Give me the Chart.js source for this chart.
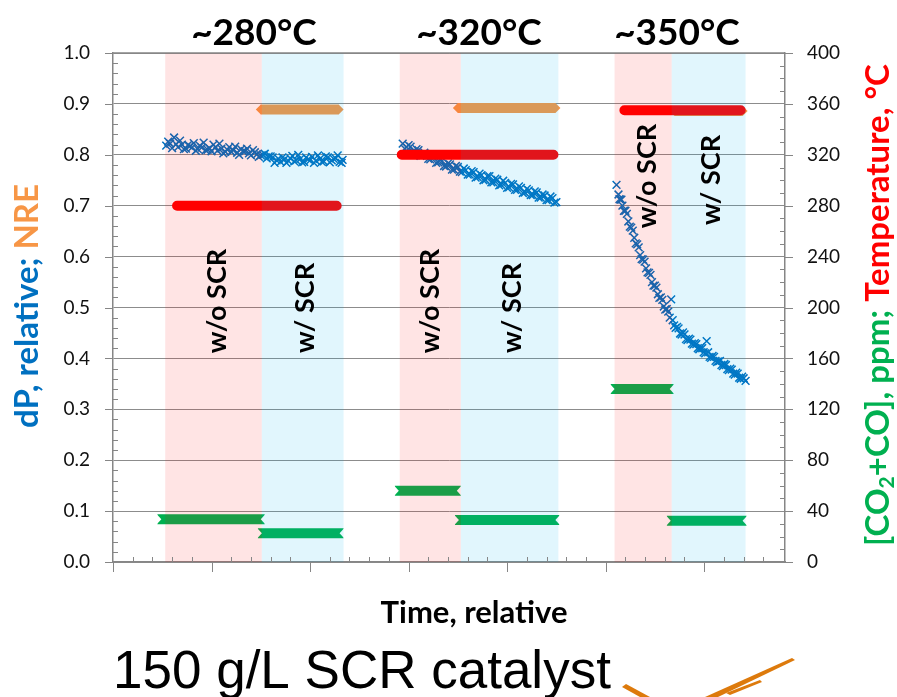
<!DOCTYPE html>
<html>
<head>
<meta charset="utf-8">
<script src="https://cdn.jsdelivr.net/npm/chart.js@4.4.0/dist/chart.umd.min.js"></script>
<style>
  html, body { margin: 0; padding: 0; background: #fff; }
  canvas { display: block; }
</style>
</head>
<body>
<canvas id="chart" width="897" height="697"></canvas>
<script>
// dP (relative) readings for each temperature step
const dpTime1 = [5.4,5.8,6.2,6.6,7.0,7.4,7.8,8.2,8.6,9.0,9.4,9.8,10.2,10.6,11.0,11.4,11.8,12.2,12.6,13.0,13.4,13.8,14.2,14.6,15.0,15.4,15.8,16.2,16.6,17.0,17.4,17.8,18.2,18.6,19.0,19.4,19.8,20.2,20.6,21.0,21.4,21.8,22.2,22.6,23.0,23.3];
const dpVal1 = [0.818,0.822,0.834,0.815,0.820,0.812,0.817,0.823,0.811,0.814,
  0.809,0.813,0.820,0.808,0.812,0.806,0.815,0.809,0.804,0.811,
  0.807,0.803,0.809,0.801,0.799,0.802,0.797,0.795,0.789,0.786,
  0.791,0.788,0.798,0.789,0.792,0.786,0.791,0.796,0.788,0.792,
  0.787,0.795,0.789,0.793,0.786,0.790];
const dpTime1b = [5.6,6.0,6.4,6.8,7.2,7.6,8.0,8.4,8.8,9.2,9.6,10.0,10.4,10.8,11.2,11.6,12.0,12.4,12.8,13.2,13.6,14.0,14.4,14.8,15.2,15.6,16.0,16.4,16.8,17.2,17.6,18.0,18.4,18.8,19.2,19.6,20.0,20.4,20.8,21.2,21.6,22.0,22.4,22.8,23.2];
const dpVal1b = [0.826,0.813,0.821,0.828,0.811,0.819,0.814,0.808,0.818,0.824,
  0.810,0.807,0.815,0.822,0.803,0.810,0.806,0.816,0.800,0.807,
  0.812,0.799,0.805,0.796,0.800,0.793,0.797,0.784,0.792,0.795,
  0.784,0.793,0.787,0.800,0.785,0.795,0.789,0.784,0.799,0.786,
  0.797,0.785,0.792,0.799,0.784];
const dpTime2 = [29.4,29.8,30.2,30.6,31.0,31.4,31.8,32.2,32.6,33.0,33.4,33.8,34.2,34.6,35.0,35.4,35.8,36.2,36.6,37.0,37.4,37.8,38.2,38.6,39.0,39.4,39.8,40.2,40.6,41.0,41.4,41.8,42.2,42.6,43.0,43.4,43.8,44.2,44.6,45.0];
const dpVal2 = [0.822,0.815,0.816,0.806,0.809,0.799,0.801,0.791,0.797,0.785,
  0.788,0.777,0.781,0.771,0.776,0.766,0.770,0.761,0.766,0.756,
  0.760,0.751,0.758,0.746,0.751,0.741,0.745,0.736,0.742,0.731,
  0.735,0.726,0.730,0.721,0.726,0.716,0.720,0.711,0.715,0.707];
const dpTime2b = [29.6,30.0,30.4,30.8,31.2,31.6,32.0,32.4,32.8,33.2,33.6,34.0,34.4,34.8,35.2,35.6,36.0,36.4,36.8,37.2,37.6,38.0,38.4,38.8,39.2,39.6,40.0,40.4,40.8,41.2,41.6,42.0,42.4,42.8,43.2,43.6,44.0,44.4,44.8];
const dpVal2b = [0.812,0.819,0.806,0.811,0.798,0.804,0.792,0.797,0.784,0.790,
  0.778,0.783,0.771,0.778,0.767,0.773,0.761,0.768,0.755,0.763,
  0.750,0.758,0.746,0.753,0.740,0.749,0.735,0.743,0.731,0.738,
  0.725,0.733,0.721,0.728,0.716,0.722,0.711,0.718,0.706];
const dpTime3 = [51.1,51.3,51.5,51.7,52.0,52.3,52.6,52.9,53.2,53.5,53.8,54.1,54.4,54.7,55.0,55.3,55.6,55.9,56.2,56.5,56.8,57.1,57.4,57.7,58.0,58.3,58.6,58.9,59.2,59.5,59.8,60.1,60.4,60.7,61.0,61.3,61.6,61.9,62.2,62.5,62.8,63.1,63.4,63.7,64.0,64.2];
const dpVal3 = [0.741,0.722,0.712,0.700,0.690,0.669,0.657,0.637,0.624,0.603,
  0.594,0.577,0.568,0.550,0.543,0.526,0.520,0.502,0.497,0.480,
  0.475,0.460,0.459,0.447,0.447,0.436,0.437,0.427,0.428,0.418,
  0.420,0.410,0.412,0.401,0.403,0.393,0.395,0.385,0.387,0.377,
  0.378,0.368,0.370,0.360,0.361,0.356];
const dpTime3b = [51.4,51.6,51.85,52.15,52.45,52.75,53.05,53.35,53.65,53.95,54.25,54.55,54.85,55.15,55.45,55.75,56.05,56.35,56.65,56.95,57.25,57.55,57.85,58.15,58.45,58.75,59.05,59.35,59.65,59.95,60.25,60.55,60.85,61.15,61.45,61.75,62.05,62.35,62.65,62.95,63.25,63.55,63.85];
const dpVal3b = [0.713,0.712,0.690,0.684,0.659,0.651,0.626,0.618,0.595,0.590,
  0.569,0.564,0.543,0.539,0.519,0.515,0.496,0.492,0.516,0.465,
  0.462,0.449,0.451,0.438,0.439,0.429,0.430,0.420,0.422,0.412,
  0.434,0.403,0.405,0.395,0.394,0.387,0.389,0.379,0.380,0.370,
  0.372,0.362,0.364];

// steady segments: start time, end time, level
const tempStart = [6.5, 29.3, 51.9];
const tempEnd   = [22.7, 44.7, 63.7];
const tempVal   = [280, 320, 355];

const nreStart = [15.0, 35.0, 57.0];
const nreEnd   = [22.9, 44.9, 63.9];
const nreVal   = [0.889, 0.892, 0.886];

const coStart = [4.5, 14.7, 28.6, 34.7, 50.5, 56.2];
const coEnd   = [15.4, 23.4, 35.3, 45.3, 56.9, 64.3];
const coVal   = [33.5, 22.5, 56, 33, 136, 32.5];

// test phases (time)
const phaseWoStart = [5.3, 29.1, 50.9];
const phaseWStart  = [15.1, 35.3, 56.7];
const phaseWEnd    = [23.4, 45.2, 64.2];
const tempTitles   = ['~280°C', '~320°C', '~350°C'];

function points(ts, vs) {
  return ts.map((t, i) => ({ x: t, y: vs[i] }));
}
function segments(starts, ends, vals) {
  const out = [];
  starts.forEach((s, i) => {
    if (i > 0) out.push({ x: s, y: null });
    out.push({ x: s, y: vals[i] });
    out.push({ x: ends[i], y: vals[i] });
  });
  return out;
}

const dpData = [].concat(
  points(dpTime1, dpVal1), points(dpTime1b, dpVal1b),
  points(dpTime2, dpVal2), points(dpTime2b, dpVal2b),
  points(dpTime3, dpVal3), points(dpTime3b, dpVal3b)
);

const decor = {
  id: 'decor',
  afterDatasetsDraw(chart) {
    const { ctx, chartArea: a, scales: { x, y2 } } = chart;
    ctx.save();
    // notched ends of the CO bands
    ctx.fillStyle = '#fff';
    coStart.forEach((s, i) => {
      const py = y2.getPixelForValue(coVal[i]);
      const p0 = x.getPixelForValue(s), p1 = x.getPixelForValue(coEnd[i]);
      ctx.beginPath();
      ctx.moveTo(p0 - 1, py - 5.5); ctx.lineTo(p0 + 4, py); ctx.lineTo(p0 - 1, py + 5.5);
      ctx.closePath(); ctx.fill();
      ctx.beginPath();
      ctx.moveTo(p1 + 1, py - 5.5); ctx.lineTo(p1 - 4, py); ctx.lineTo(p1 + 1, py + 5.5);
      ctx.closePath(); ctx.fill();
    });
    // translucent phase bands on top of the data
    for (let i = 0; i < phaseWoStart.length; i++) {
      const p0 = x.getPixelForValue(phaseWoStart[i]);
      const p1 = x.getPixelForValue(phaseWStart[i]);
      const p2 = x.getPixelForValue(phaseWEnd[i]);
      ctx.fillStyle = 'rgba(255,0,0,0.106)';
      ctx.fillRect(p0, a.top, p1 - p0, a.bottom - a.top);
      ctx.fillStyle = 'rgba(0,176,240,0.118)';
      ctx.fillRect(p1, a.top, p2 - p1, a.bottom - a.top);
    }
    ctx.restore();
  },
  afterDraw(chart) {
    const { ctx, chartArea: a, scales: { x, y, y2 } } = chart;
    ctx.save();
    ctx.strokeStyle = '#868686';
    ctx.lineWidth = 1.5;
    ctx.beginPath();
    ctx.moveTo(a.left, a.top);
    ctx.lineTo(a.right, a.top);
    ctx.stroke();

    ctx.lineWidth = 1;
    ctx.beginPath();
    for (let i = 0; i <= 50; i++) {
      const py = Math.round(y.getPixelForValue(i / 50)) + 0.5;
      if (i % 5 === 0) { ctx.moveTo(a.left - 8, py); ctx.lineTo(a.left, py); }
      else { ctx.moveTo(a.left, py); ctx.lineTo(a.left + 5, py); }
    }
    for (let i = 0; i <= 40; i++) {
      const py = Math.round(y2.getPixelForValue(i * 10)) + 0.5;
      if (i % 4 === 0) { ctx.moveTo(a.right, py); ctx.lineTo(a.right + 8, py); }
      else { ctx.moveTo(a.right - 5, py); ctx.lineTo(a.right, py); }
    }
    for (let i = 0; i <= 34; i++) {
      const px = Math.round(x.getPixelForValue(i * 2)) + 0.5;
      if (px > a.right - 2) continue;
      if (i % 5 === 0) { ctx.moveTo(px, a.bottom); ctx.lineTo(px, a.bottom + 10); }
      else { ctx.moveTo(px, a.bottom - 5); ctx.lineTo(px, a.bottom); }
    }
    ctx.stroke();

    // temperature headings
    ctx.fillStyle = '#000';
    ctx.font = 'bold 37px Lato';
    ctx.textAlign = 'center';
    ctx.textBaseline = 'alphabetic';
    const titleX = [254, 479, 677];
    tempTitles.forEach((t, i) => ctx.fillText(t, titleX[i], 45));

    // phase labels
    ctx.font = 'bold 27px Lato';
    ctx.textBaseline = 'middle';
    const labs = [
      ['w/o SCR', 217, 301], ['w/ SCR', 305, 308],
      ['w/o SCR', 430, 301], ['w/ SCR', 512, 308],
      ['w/o SCR', 647, 176], ['w/ SCR', 711, 180]
    ];
    labs.forEach(([t, cx, cy]) => {
      ctx.save();
      ctx.translate(cx, cy);
      ctx.rotate(-Math.PI / 2);
      ctx.fillText(t, 0, 0);
      ctx.restore();
    });

    // left axis title
    ctx.font = 'bold 33px Lato';
    ctx.textAlign = 'left';
    let parts = [['dP, relative; ', '#0070C0'], ['NRE', '#F79646']];
    let total = parts.reduce((s, p) => s + ctx.measureText(p[0]).width, 0);
    ctx.save();
    ctx.translate(27, 306);
    ctx.rotate(-Math.PI / 2);
    let cx = -total / 2;
    parts.forEach(([t, c]) => { ctx.fillStyle = c; ctx.fillText(t, cx, 0); cx += ctx.measureText(t).width; });
    ctx.restore();

    // right axis title
    const big = 'bold 33px Lato', small = 'bold 21px Lato';
    parts = [['[CO', '#00B050', big, 0], ['2', '#00B050', small, 9], ['+CO], ppm; ', '#00B050', big, 0], ['Temperature, °C', '#FF0000', big, 0]];
    total = 0;
    parts.forEach(p => { ctx.font = p[2]; total += ctx.measureText(p[0]).width; });
    ctx.save();
    ctx.translate(878, 305);
    ctx.rotate(-Math.PI / 2);
    cx = -total / 2;
    parts.forEach(([t, c, f, dy]) => { ctx.font = f; ctx.fillStyle = c; ctx.fillText(t, cx, dy); cx += ctx.measureText(t).width; });
    ctx.restore();

    // x axis title
    ctx.fillStyle = '#000';
    ctx.font = 'bold 31px Lato';
    ctx.textAlign = 'center';
    ctx.fillText('Time, relative', 474, 613);

    // slide caption
    ctx.font = '53px "Liberation Sans"';
    ctx.textAlign = 'left';
    ctx.textBaseline = 'alphabetic';
    ctx.fillText('150 g/L SCR catalyst', 113, 688);

    // orange brush stroke
    ctx.fillStyle = '#dd7a0c';
    ctx.beginPath();
    ctx.moveTo(622, 687); ctx.lineTo(626, 684); ctx.lineTo(650, 697); ctx.lineTo(640, 697);
    ctx.closePath(); ctx.fill();
    ctx.beginPath();
    ctx.moveTo(705, 697); ctx.lineTo(792, 658); ctx.lineTo(795, 660); ctx.lineTo(718, 697);
    ctx.closePath(); ctx.fill();
    ctx.beginPath();
    ctx.moveTo(760, 680); ctx.lineTo(726, 693); ctx.lineTo(730, 695); ctx.lineTo(762, 682);
    ctx.closePath(); ctx.fill();
    ctx.restore();
  }
};

new Chart(document.getElementById('chart'), {
  type: 'line',
  data: {
    datasets: [
      {
        label: 'Temperature',
        yAxisID: 'y2',
        data: segments(tempStart, tempEnd, tempVal),
        borderColor: '#FF0000',
        borderWidth: 10,
        borderCapStyle: 'round',
        pointRadius: 0,
        spanGaps: false,
        order: 0
      },
      {
        label: 'NRE',
        yAxisID: 'y',
        data: segments(nreStart, nreEnd, nreVal),
        borderColor: '#F79646',
        borderWidth: 10,
        borderCapStyle: 'butt',
        pointStyle: 'rectRot',
        pointRadius: 5,
        pointBorderWidth: 0,
        pointBackgroundColor: '#F79646',
        spanGaps: false,
        order: 1
      },
      {
        label: '[CO2+CO]',
        yAxisID: 'y2',
        data: segments(coStart, coEnd, coVal),
        borderColor: '#00B050',
        borderWidth: 10,
        borderCapStyle: 'butt',
        pointRadius: 0,
        spanGaps: false,
        order: 2
      },
      {
        label: 'dP',
        yAxisID: 'y',
        data: dpData,
        showLine: false,
        pointStyle: 'crossRot',
        pointRadius: 5.5,
        pointBorderWidth: 1.5,
        pointBorderColor: '#0070C0',
        pointBackgroundColor: '#0070C0',
        order: 3
      }
    ]
  },
  options: {
    responsive: false,
    animation: false,
    devicePixelRatio: 1,
    layout: { padding: { left: 0, right: 0, top: 53, bottom: 135 } },
    plugins: { legend: { display: false }, tooltip: { enabled: false } },
    scales: {
      x: {
        type: 'linear',
        min: 0,
        max: 68.2,
        ticks: { display: false },
        grid: { display: false },
        border: { display: true, color: '#868686', width: 1.5 },
        afterFit(s) { s.height = 0; }
      },
      y: {
        position: 'left',
        min: 0,
        max: 1,
        ticks: {
          stepSize: 0.1,
          padding: 23,
          color: '#111',
          font: { family: 'Lato', size: 19 },
          callback: v => v.toFixed(1)
        },
        grid: { color: '#8c8c8c', lineWidth: 1, drawTicks: false },
        border: { display: true, color: '#868686', width: 1.5 },
        afterFit(s) { s.width = 113; }
      },
      y2: {
        position: 'right',
        min: 0,
        max: 400,
        ticks: {
          stepSize: 40,
          padding: 22,
          color: '#111',
          font: { family: 'Lato', size: 19 }
        },
        grid: { drawOnChartArea: false, drawTicks: false },
        border: { display: true, color: '#868686', width: 1.5 },
        afterFit(s) { s.width = 112; }
      }
    }
  },
  plugins: [decor]
});
</script>
</body>
</html>
